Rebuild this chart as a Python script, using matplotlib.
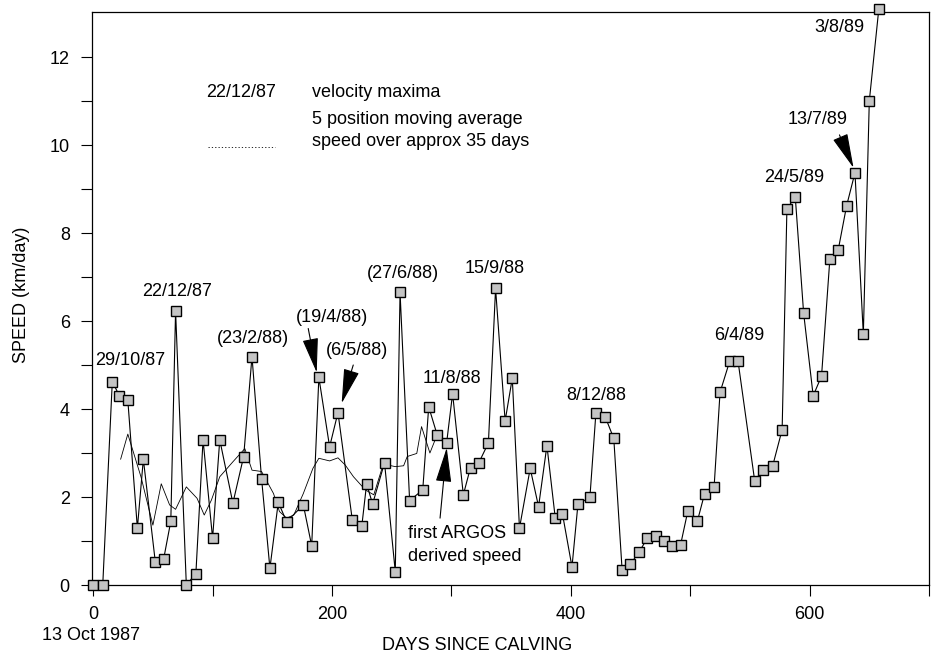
import matplotlib
matplotlib.use("Agg")
import matplotlib.pyplot as plt

plt.rcParams['font.family'] = ['Liberation Sans', 'DejaVu Sans']

# ---- data ----
days = [0, 8, 16, 22, 29, 37, 42, 52, 59, 65,
        69, 78, 86, 92, 100, 106, 117, 126, 133, 141,
        148, 155, 162, 176, 183, 189, 198, 205, 217, 225,
        229, 234, 244, 253, 257, 265, 276, 281, 288, 296,
        301, 310, 316, 323, 331, 337, 345, 351, 357, 366,
        373, 380, 387, 393, 401, 406, 416, 421, 429, 436,
        443, 450, 457, 464, 471, 478, 485, 492, 498, 506,
        512, 520, 525, 533, 540, 554, 561, 569, 577, 581,
        588, 595, 603, 610, 617, 624, 631, 638, 645, 650,
        658]
speed = [0, 0, 4.62, 4.3, 4.2, 1.29, 2.86, 0.53, 0.59, 1.45,
         6.23, 0, 0.26, 3.3, 1.06, 3.3, 1.86, 2.92, 5.19, 2.42,
         0.38, 1.88, 1.44, 1.82, 0.89, 4.72, 3.14, 3.92, 1.48, 1.35,
         2.3, 1.84, 2.78, 0.3, 6.65, 1.92, 2.16, 4.05, 3.42, 3.23,
         4.35, 2.05, 2.67, 2.78, 3.23, 6.74, 3.73, 4.7, 1.29, 2.65,
         1.78, 3.17, 1.52, 1.62, 0.41, 1.84, 1.99, 3.9, 3.81, 3.33,
         0.33, 0.48, 0.74, 1.06, 1.11, 1.0, 0.88, 0.92, 1.68, 1.45,
         2.07, 2.22, 4.38, 5.08, 5.1, 2.37, 2.62, 2.7, 3.53, 8.55,
         8.82, 6.18, 4.3, 4.75, 7.42, 7.62, 8.62, 9.37, 5.7, 11.0,
         13.1]

ma_days = [23, 29, 40, 50, 57, 64, 69, 78, 87, 93, 99, 106, 117, 127, 133,
           141, 151, 156, 162, 168, 176, 184, 189, 198, 205, 211, 218, 228,
           235, 243, 253, 260, 263, 271, 275, 282, 288]
ma_speed = [2.86, 3.43, 2.46, 1.36, 2.3, 1.82, 1.72, 2.23, 1.97, 1.59, 1.93,
            2.46, 2.8, 3.1, 2.61, 2.58, 2.08, 1.67, 1.52, 1.59, 2.08, 2.65,
            2.88, 2.82, 2.89, 2.73, 2.46, 2.16, 2.05, 2.75, 2.69, 2.71, 2.92,
            2.99, 3.6, 3.0, 3.41]

maxima_labels = ["29/10/87", "22/12/87", "(23/2/88)", "(19/4/88)", "(6/5/88)",
                 "(27/6/88)", "11/8/88", "15/9/88", "8/12/88", "6/4/89",
                 "24/5/89", "13/7/89", "3/8/89"]

x_ticks = [0, 100, 200, 300, 400, 500, 600, 700]
x_ticklabels = ["0", "", "200", "", "400", "", "600", ""]
y_ticks = list(range(0, 13))
y_ticklabels = [str(v) if v % 2 == 0 else "" for v in y_ticks]

# ---- figure ----
W, H = 937, 658
fig = plt.figure(figsize=(W / 100, H / 100), dpi=100)
ax = fig.add_axes([92 / W, 1 - 585 / H, (929 - 92) / W, (585 - 11.7) / H])

ax.plot(ma_days, ma_speed, color='black', lw=0.6, zorder=2)
ax.plot(days, speed, color='black', lw=0.8, marker='s', markersize=6.6,
        markerfacecolor='#c4c4c4', markeredgecolor='black', markeredgewidth=1.0,
        clip_on=False, zorder=3)

ax.set_xlim(-1, 700)
ax.set_ylim(0, 13.03)
ax.set_xticks(x_ticks)
ax.set_xticklabels(x_ticklabels)
ax.set_yticks(y_ticks)
ax.set_yticklabels(y_ticklabels)
ax.tick_params(axis='both', direction='out', length=8, width=0.8,
               labelsize=13, pad=7)
ax.tick_params(axis='y', pad=8)
for s in ax.spines.values():
    s.set_linewidth(0.9)

fs = 13
# maxima labels (positions chosen next to each peak)
label_pos = [(1.5, 5.1, 'left'), (70, 6.68, 'center'), (134, 5.61, 'center'),
             (200, 6.09, 'center'), (221, 5.32, 'center'), (259.5, 7.09, 'center'),
             (300.7, 4.7, 'center'), (336, 7.2, 'center'), (421, 4.3, 'center'),
             (541, 5.68, 'center'), (587, 9.27, 'center'), (607, 10.57, 'center'),
             (624.8, 12.68, 'center')]
for txt, (x, y, ha) in zip(maxima_labels, label_pos):
    ax.text(x, y, txt, fontsize=fs, ha=ha, va='center')

ax.text(263.6, 1.18, "first ARGOS", fontsize=fs, ha='left', va='center')
ax.text(263.6, 0.64, "derived speed", fontsize=fs, ha='left', va='center')

arrow = dict(arrowstyle='-|>,head_length=1.1,head_width=0.25', color='black',
             lw=0.8, shrinkA=0, shrinkB=0, mutation_scale=20)
for tail, tip in [((180.1, 5.83), (187.2, 4.83)),
                  ((217.8, 5.0), (208.1, 4.13)),
                  ((290.5, 1.52), (296.1, 3.12)),
                  ((625.0, 10.23), (636.8, 9.48))]:
    ax.annotate('', xy=tip, xytext=tail, arrowprops=arrow)

# legend
ax.text(124, 11.2, "22/12/87", fontsize=fs, ha='center', va='center')
ax.text(183.4, 11.2, "velocity maxima", fontsize=fs, ha='left', va='center')
ax.text(183.4, 10.57, "5 position moving average", fontsize=fs, ha='left', va='center')
ax.text(183.4, 10.09, "speed over approx 35 days", fontsize=fs, ha='left', va='center')
ax.plot([96, 152], [9.95, 9.95], color='black', lw=0.6, ls=(0, (1.5, 2.5)))

# axis titles
fig.text(477 / W, 1 - 645 / H, "DAYS SINCE CALVING", fontsize=13, ha='center', va='center')
fig.text(22 / W, 1 - 295 / H, "SPEED (km/day)", fontsize=13, ha='center', va='center',
         rotation=90)
fig.text(91 / W, 1 - 636 / H, "13 Oct 1987", fontsize=13, ha='center', va='center')

fig.savefig("out.png", dpi=100)
